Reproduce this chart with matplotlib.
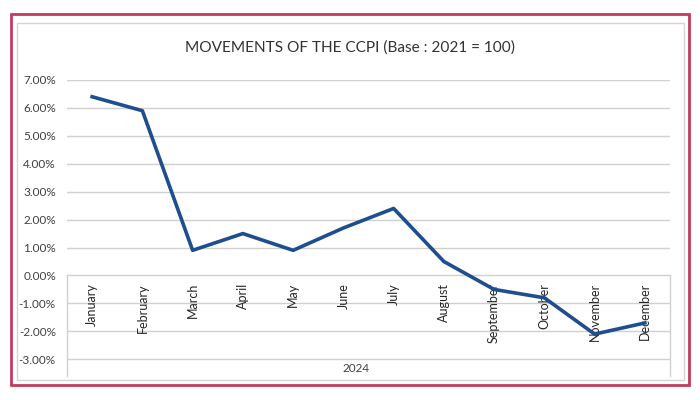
import matplotlib

matplotlib.use("Agg")
import matplotlib.pyplot as plt
from matplotlib.patches import Rectangle
from matplotlib.transforms import blended_transform_factory

months = ["January", "February", "March", "April", "May", "June",
          "July", "August", "September", "October", "November", "December"]
ccpi_change = [6.4, 5.9, 0.9, 1.5, 0.9, 1.7, 2.4, 0.5, -0.5, -0.8, -2.1, -1.7]
year_label = "2024"
y_ticks = [-3, -2, -1, 0, 1, 2, 3, 4, 5, 6, 7]
title = "MOVEMENTS OF THE CCPI (Base : 2021 = 100)"

plt.rcParams["font.family"] = ["Lato", "DejaVu Sans"]

W, H = 700, 400
fig = plt.figure(figsize=(7, 4), dpi=100)

# outer red frame and inner grey chart frame
fig.add_artist(Rectangle((11 / W, 1 - 385 / H), 678 / W, 371 / H, transform=fig.transFigure,
                         fill=False, edgecolor="#C23B5E", linewidth=2.0))
fig.add_artist(Rectangle((17 / W, 1 - 380 / H), 667 / W, 357 / H, transform=fig.transFigure,
                         fill=False, edgecolor="#D4D4D4", linewidth=1.0))

ax = fig.add_axes([67 / W, 1 - 376 / H, 603 / W, 296 / H])
ax.set_xlim(-0.5, len(months) - 0.5)
ax.set_ylim(-3.6, 7.0)

for v in y_ticks:
    ax.axhline(v, color="#D0D0D0", linewidth=1.0, zorder=1)

# category axis box below zero line
trans = blended_transform_factory(ax.transAxes, ax.transData)
ax.plot([0, 0], [0, -3.6], transform=trans, color="#D0D0D0", linewidth=1.0, clip_on=False)
ax.plot([1, 1], [0, -3.6], transform=trans, color="#D0D0D0", linewidth=1.0, clip_on=False)

ax.plot(range(len(months)), ccpi_change, color="#1F4E8F", linewidth=2.6,
        solid_joinstyle="round", zorder=3)

for i, m in enumerate(months):
    ax.text(i, -0.27, m, rotation=90, ha="center", va="top", fontsize=9,
            color="#262626", zorder=2)
ax.text(0.4801, -3.15, year_label, transform=trans, ha="center", va="top",
        fontsize=8.5, color="#404040")

ax.set_yticks(y_ticks)
ax.set_yticklabels([f"{v:.2f}%" for v in y_ticks], fontsize=8.5, color="#404040")
ax.tick_params(axis="y", length=0, pad=8)
ax.set_xticks([])
for s in ax.spines.values():
    s.set_visible(False)

fig.text(0.5, 1 - 48 / H, title, ha="center", va="center", fontsize=11.1, color="#333333")

fig.savefig("out.png", dpi=100)
